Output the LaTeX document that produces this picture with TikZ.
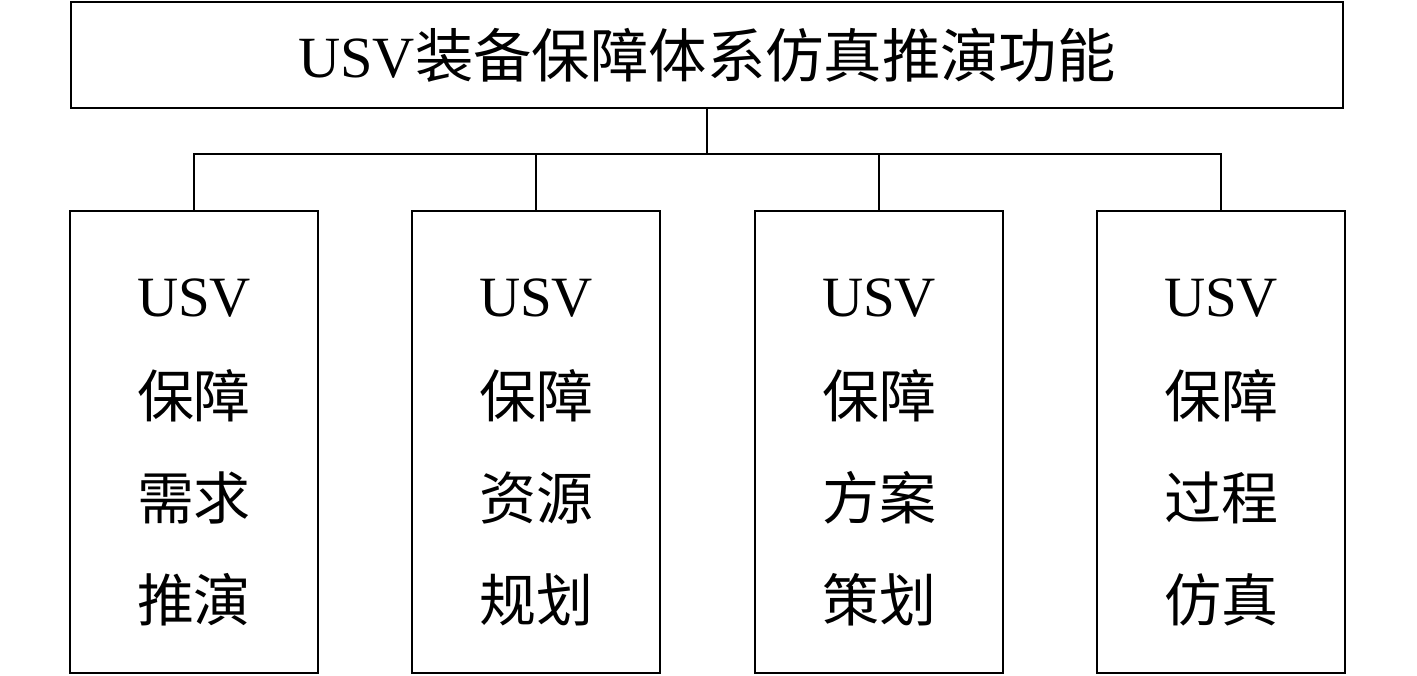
\documentclass[tikz,border=0pt]{standalone}
\usepackage{fontspec}
\setmainfont{Liberation Serif}
\newfontfamily\cjk{Noto Sans CJK SC}

\tikzset{
    topbox/.style={draw, line width=0.6pt, minimum width=12.72cm, minimum height=1.06cm,
        inner sep=0pt, font=\fontsize{16.6}{19}\selectfont},
    funcbox/.style={draw, line width=0.6pt, minimum width=2.47cm, minimum height=4.62cm,
        inner sep=0pt},
    functext/.style={inner sep=0pt, align=center, font=\fontsize{16.2}{28.9}\selectfont},
    link/.style={line width=0.6pt}
}

\begin{document}
\begin{tikzpicture}[x=0.01cm, y=0.01cm]
    \useasboundingbox (0,0) rectangle (1417,675);

    % Top function box
    \node[topbox] (main) at (707,620) {USV{\cjk 装备保障体系仿真推演功能}};

    % Branch point below the top box
    \coordinate (bus) at (707,521);
    \draw[link] (main.south) -- (bus);

    \foreach \x/\name/\a/\b in {194/need/需求/推演, 536/res/资源/规划, 879/plan/方案/策划, 1221/proc/过程/仿真} {
        % Sub-function box
        \node[funcbox] (\name) at (\x,233) {};
        % Text inside the box
        \node[functext] (\name-txt) at ([yshift=-0.1cm]\name.center) {USV\\{\cjk 保障}\\{\cjk \a}\\{\cjk \b}};
        % Connector from the branch line
        \draw[link] (\name.north) -- (\name.north |- bus) -- (bus);
    }
\end{tikzpicture}
\end{document}
